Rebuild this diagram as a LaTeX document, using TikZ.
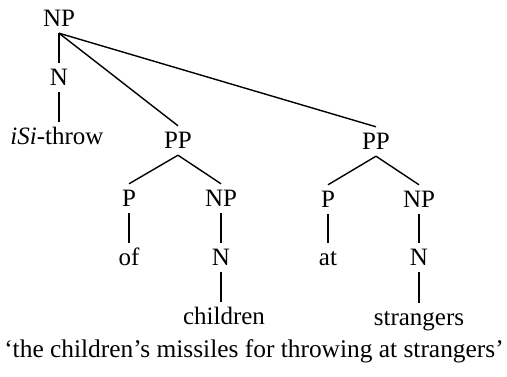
\documentclass[tikz,border=0pt]{standalone}
\usepackage{fontspec}
\setmainfont{Liberation Serif}
\usetikzlibrary{calc}

\begin{document}
\begin{tikzpicture}[x=1pt,y=-1pt,
  wort/.style={anchor=base, font=\fontsize{25}{30}\selectfont,
    text height=17pt, text depth=0pt, inner xsep=0pt, inner ysep=6pt},
  ast/.style={line width=1.4pt}]

% Grundlinien der Ebenen
\def\ya{27}
\def\yb{86}
\def\yc{147}
\def\yd{207}
\def\ye{266}
\def\yf{325}

\useasboundingbox (0,0) rectangle (507,377);

% ------------------- Oberste Ebene -------------------
\node[wort] (np) at (59,\ya) {NP};
\node[wort] (n) at (59,\yb) {N};
\node[wort] (isi) at (57,\yc-2) {\textit{iSi}-throw};

% ------------------- Linke PP -------------------
\node[wort] (ppa) at (178,\yc+2) {PP};
\node[wort] (pa) at (129,\yd) {P};
\node[wort] (npa) at (221,\yd) {NP};
\node[wort] (of) at (129,\ye) {of};
\node[wort] (na) at (221,\ye) {N};
\node[wort] (children) at (224,\yf) {children};

% ------------------- Rechte PP -------------------
\node[wort] (ppb) at (376,\yc+3) {PP};
\node[wort] (pb) at (328,\yd+1) {P};
\node[wort] (npb) at (419,\yd+1) {NP};
\node[wort] (at) at (328,\ye) {at};
\node[wort] (nb) at (419,\ye) {N};
\node[wort] (strangers) at (419,\yf+1) {strangers};

% Uebersetzung
\node[wort, font=\fontsize{25.4}{30}\selectfont] (gloss) at (254,358)
  {‘the children’s missiles for throwing at strangers’};

% Aeste
\draw[ast] (np.south) -- (n.north);
\draw[ast] (n.south) -- (n.south |- isi.north);
\draw[ast] (np.south) -- (ppa.north);
\draw[ast] (np.south) -- (ppb.north);

\draw[ast] (ppa.south) -- (pa.north);
\draw[ast] (ppa.south) -- (npa.north);
\draw[ast] (pa.south) -- (of.north);
\draw[ast] (npa.south) -- (na.north);
\draw[ast] (na.south) -- (na.south |- children.north);

\draw[ast] (ppb.south) -- (pb.north);
\draw[ast] (ppb.south) -- (npb.north);
\draw[ast] (pb.south) -- (at.north);
\draw[ast] (npb.south) -- (nb.north);
\draw[ast] (nb.south) -- (strangers.north);

\end{tikzpicture}
\end{document}
